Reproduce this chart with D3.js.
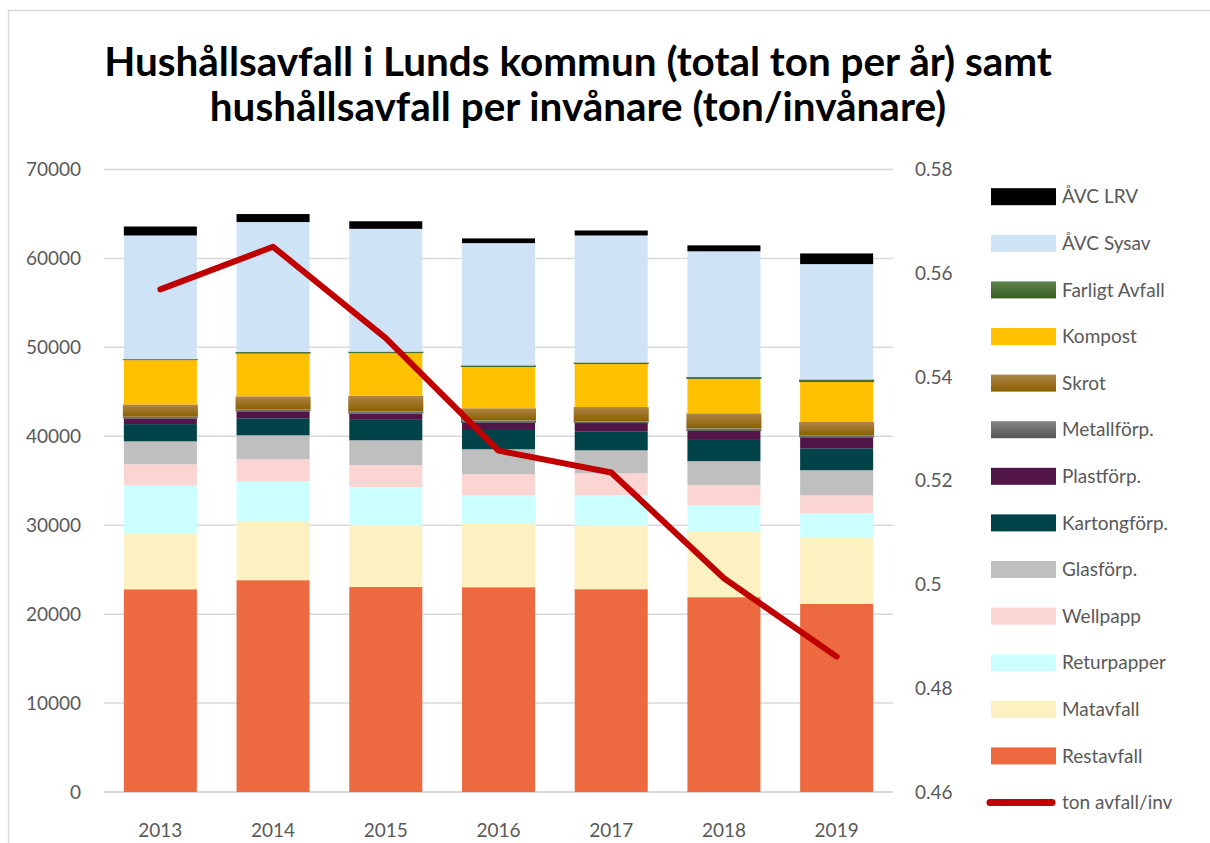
<!DOCTYPE html>
<html>
<head>
<meta charset="utf-8">
<script src="https://cdn.jsdelivr.net/npm/d3@7"></script>
<style>
  body { margin: 0; background: #fff; }
  text { font-family: Lato, "Open Sans", sans-serif; }
</style>
</head>
<body>
<script>
const years = ['2013', '2014', '2015', '2016', '2017', '2018', '2019'];

// ton per year, bottom of the stack first
const restavfall = [22800, 23820, 23050, 23030, 22810, 21910, 21160];
const matavfall = [6260, 6550, 6950, 7110, 7150, 7340, 7420];
const returpapper = [5430, 4570, 4300, 3230, 3410, 3000, 2770];
const wellpapp = [2360, 2470, 2450, 2360, 2470, 2250, 2020];
const glasforp = [2580, 2700, 2800, 2810, 2580, 2700, 2810];
const kartongforp = [1940, 1910, 2300, 2170, 2140, 2390, 2470];
const plastforp = [640, 790, 700, 790, 930, 1010, 1240];
const metallforp = [190, 190, 250, 300, 190, 300, 230];
const skrot = [1380, 1490, 1750, 1350, 1610, 1690, 1490];
const kompost = [4980, 4810, 4800, 4640, 4830, 3860, 4490];
const farligtAvfall = [120, 190, 180, 190, 190, 230, 300];
const avcSysav = [13900, 14600, 13800, 13740, 14270, 14120, 12960];
const avcLrv = [1010, 900, 850, 530, 560, 670, 1200];

// ton avfall per invånare
const tonPerInv = [0.5569, 0.5651, 0.5475, 0.5258, 0.5216, 0.5012, 0.4861];

const leftTicks = [0, 10000, 20000, 30000, 40000, 50000, 60000, 70000];
const rightTicks = [0.46, 0.48, 0.5, 0.52, 0.54, 0.56, 0.58];

const series = [
  { key: 'Restavfall', values: restavfall, fill: '#ED6A40' },
  { key: 'Matavfall', values: matavfall, fill: '#FEF1C1' },
  { key: 'Returpapper', values: returpapper, fill: '#CCFFFF' },
  { key: 'Wellpapp', values: wellpapp, fill: '#FAD5D1' },
  { key: 'Glasförp.', values: glasforp, fill: '#BFBFBF' },
  { key: 'Kartongförp.', values: kartongforp, fill: '#004348' },
  { key: 'Plastförp.', values: plastforp, fill: '#521548' },
  { key: 'Metallförp.', values: metallforp, fill: 'url(#g-metall)', edge: '#646464' },
  { key: 'Skrot', values: skrot, fill: 'url(#g-skrot)', edge: '#946A18' },
  { key: 'Kompost', values: kompost, fill: '#FFC000' },
  { key: 'Farligt Avfall', values: farligtAvfall, fill: 'url(#g-farligt)', edge: '#46692F' },
  { key: 'ÅVC Sysav', values: avcSysav, fill: '#CEE3F6' },
  { key: 'ÅVC LRV', values: avcLrv, fill: '#000000' }
];

const table = years.map((y, i) => {
  const row = { year: y };
  series.forEach(s => { row[s.key] = s.values[i]; });
  return row;
});

const width = 1210, height = 843;
const plot = { left: 104, right: 893, top: 169.5, bottom: 792 };

const svg = d3.select('body').append('svg')
  .attr('width', width)
  .attr('height', height);

const defs = svg.append('defs');
function gradient(id, c0, c1) {
  const g = defs.append('linearGradient').attr('id', id)
    .attr('x1', 0).attr('y1', 0).attr('x2', 0).attr('y2', 1);
  g.append('stop').attr('offset', '0%').attr('stop-color', c0);
  g.append('stop').attr('offset', '100%').attr('stop-color', c1);
}
gradient('g-metall', '#858585', '#555555');
gradient('g-skrot', '#AE8548', '#8A6000');
gradient('g-farligt', '#5F8450', '#375E1F');

// chart frame
svg.append('rect')
  .attr('x', 8.5).attr('y', 10.5)
  .attr('width', 1300).attr('height', 900)
  .attr('fill', 'none')
  .attr('stroke', '#D9D9D9')
  .attr('stroke-width', 1.5);

const x = d3.scaleBand()
  .domain(years)
  .range([plot.left, plot.right])
  .paddingInner(0.352)
  .paddingOuter(0.176);

const y = d3.scaleLinear().domain([0, 70000]).range([plot.bottom, plot.top]);
const y2 = d3.scaleLinear().domain([0.46, 0.58]).range([plot.bottom, plot.top]);

// gridlines
svg.append('g')
  .selectAll('line')
  .data(leftTicks)
  .enter()
  .append('line')
  .attr('x1', plot.left).attr('x2', plot.right)
  .attr('y1', d => y(d)).attr('y2', d => y(d))
  .attr('stroke', '#D9D9D9')
  .attr('stroke-width', d => d === 0 ? 2 : 1.5);

// left axis labels
svg.append('g')
  .selectAll('text')
  .data(leftTicks)
  .enter()
  .append('text')
  .attr('x', 81)
  .attr('y', d => y(d))
  .attr('dy', '0.35em')
  .attr('text-anchor', 'end')
  .attr('font-size', 19)
  .attr('fill', '#595959')
  .text(d => d);

// right axis labels
svg.append('g')
  .selectAll('text')
  .data(rightTicks)
  .enter()
  .append('text')
  .attr('x', 915)
  .attr('y', d => y2(d))
  .attr('dy', '0.35em')
  .attr('font-size', 19)
  .attr('fill', '#595959')
  .text(d => +d.toFixed(2));

// year labels
svg.append('g')
  .selectAll('text')
  .data(years)
  .enter()
  .append('text')
  .attr('x', d => x(d) + x.bandwidth() / 2)
  .attr('y', 837)
  .attr('text-anchor', 'middle')
  .attr('font-size', 19)
  .attr('fill', '#595959')
  .text(d => d);

// stacked bars
const stack = d3.stack().keys(series.map(s => s.key));
const layers = stack(table);

svg.append('g')
  .selectAll('g')
  .data(layers)
  .enter()
  .append('g')
  .each(function (layer, i) {
    const s = series[i];
    const pad = s.edge ? 1 : 0;
    d3.select(this)
      .selectAll('rect')
      .data(layer)
      .enter()
      .append('rect')
      .attr('x', d => x(d.data.year) - pad)
      .attr('width', x.bandwidth() + pad * 2)
      .attr('y', d => y(d[1]))
      .attr('height', d => Math.max(y(d[0]) - y(d[1]), 1))
      .attr('fill', s.fill);
  });

// ton avfall / inv line
const line = d3.line()
  .x((d, i) => x(years[i]) + x.bandwidth() / 2)
  .y(d => y2(d));

svg.append('path')
  .datum(tonPerInv)
  .attr('d', line)
  .attr('fill', 'none')
  .attr('stroke', '#C00000')
  .attr('stroke-width', 6)
  .attr('stroke-linejoin', 'round')
  .attr('stroke-linecap', 'round');

// legend
const legendItems = series.slice().reverse().concat([{ key: 'ton avfall/inv', line: true }]);
const legend = svg.append('g')
  .selectAll('g')
  .data(legendItems)
  .enter()
  .append('g')
  .attr('transform', (d, i) => `translate(0, ${196.7 + i * 46.6})`);

legend.filter(d => !d.line)
  .append('rect')
  .attr('x', 991).attr('y', -8.5)
  .attr('width', 65).attr('height', 17)
  .attr('fill', d => d.fill);

legend.filter(d => d.line)
  .append('line')
  .attr('x1', 990).attr('x2', 1052)
  .attr('y1', 0).attr('y2', 0)
  .attr('stroke', '#C00000')
  .attr('stroke-width', 7)
  .attr('stroke-linecap', 'round');

legend.append('text')
  .attr('x', 1062)
  .attr('y', 0)
  .attr('dy', '0.35em')
  .attr('font-size', 19)
  .attr('fill', '#595959')
  .text(d => d.key);

// title, sized to the reference line width
const titleLines = [
  { text: 'Hushållsavfall i Lunds kommun (total ton per år) samt', y: 76 },
  { text: 'hushållsavfall per invånare (ton/invånare)', y: 121 }
];
const title = svg.append('g')
  .selectAll('text')
  .data(titleLines)
  .enter()
  .append('text')
  .attr('x', 578)
  .attr('y', d => d.y)
  .attr('text-anchor', 'middle')
  .attr('font-weight', 'bold')
  .attr('font-size', 36)
  .attr('fill', '#000')
  .text(d => d.text);

const w0 = title.nodes()[0].getComputedTextLength();
title.attr('font-size', 36 * 948 / w0);
</script>
</body>
</html>
